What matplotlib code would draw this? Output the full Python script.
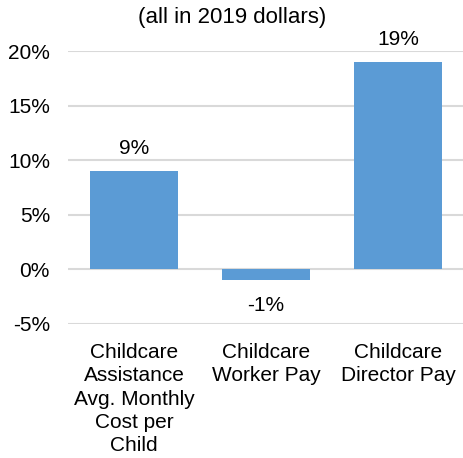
import matplotlib.pyplot as plt

plt.rcParams['font.family'] = ['Liberation Sans', 'DejaVu Sans']

categories = ["Childcare\nAssistance\nAvg. Monthly\nCost per\nChild",
              "Childcare\nWorker Pay",
              "Childcare\nDirector Pay"]
values = [9, -1, 19]
value_labels = ["9%", "-1%", "19%"]
yticks = [-5, 0, 5, 10, 15, 20]

fig = plt.figure(figsize=(4.64, 4.58), dpi=100)
ax = fig.add_axes([0.1466, 0.2926, 0.8534, 0.596])

x = range(len(categories))
ax.bar(x, values, width=0.67, color='#5b9bd5', zorder=3)

for i, (v, lab) in enumerate(zip(values, value_labels)):
    if v >= 0:
        ax.annotate(lab, (i, v), xytext=(0, 12), textcoords='offset points',
                    ha='center', va='baseline', fontsize=15)
    else:
        ax.annotate(lab, (i, v), xytext=(0, -11), textcoords='offset points',
                    ha='center', va='top', fontsize=15)

ax.set_xlim(-0.5, 2.5)
ax.set_ylim(-5, 20)
ax.set_yticks(yticks)
ax.set_yticklabels([f"{t}%" for t in yticks], fontsize=15)
ax.yaxis.grid(True, color='#d9d9d9', linewidth=1.5, zorder=0)
ax.set_xticks(list(x))
ax.set_xticklabels(categories, fontsize=15, va='top', linespacing=1.27)
ax.tick_params(axis='both', length=0)
ax.tick_params(axis='x', pad=14)
ax.tick_params(axis='y', pad=13)
for s in ax.spines.values():
    s.set_visible(False)

fig.text(0.5, 0.962, "(all in 2019 dollars)", ha='center', va='center', fontsize=16)

fig.savefig("out.png", dpi=100)
